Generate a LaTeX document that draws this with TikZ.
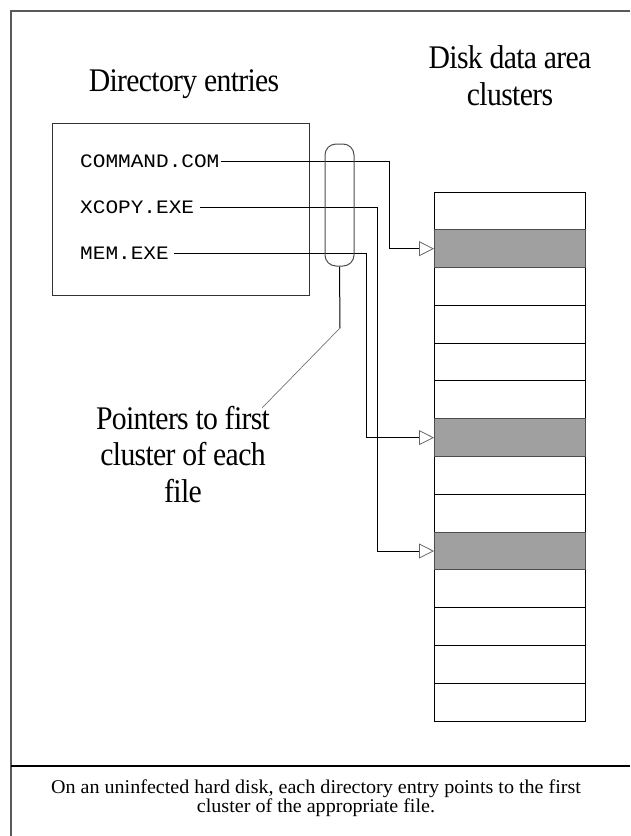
\documentclass[tikz,border=0pt]{standalone}
\usepackage{fontspec}
\setmainfont{Liberation Serif}
\newfontfamily\headfont[FakeStretch=0.9,LetterSpace=-2]{Liberation Serif}
\newfontfamily\capfont[FakeStretch=1.03]{Liberation Serif}
\newfontfamily\entryfont[FakeStretch=1.11]{Liberation Mono}
\usetikzlibrary{arrows.meta}
\definecolor{usedgray}{HTML}{A0A0A0}

\begin{document}
\begin{tikzpicture}[x=1pt,y=-1pt,
  heading/.style={font=\headfont\fontsize{33}{36.5}\selectfont, align=center, inner sep=0pt},
  caption/.style={font=\capfont\fontsize{19.5}{17.5}\selectfont, align=center, inner sep=0pt},
  entry/.style={font=\entryfont\fontsize{19}{19}\selectfont, anchor=west, inner sep=0pt},
  frameline/.style={line width=1.5pt, black!65},
  cell/.style={draw=black, line width=1pt, minimum width=151pt, minimum height=37.79pt, inner sep=0pt, outer sep=0pt},
  usedcell/.style={cell, fill=usedgray, draw=black!70},
  link/.style={line width=1pt, -{Triangle[open,length=15pt,width=15pt,line width=0.8pt,color=black!60]}},
  wire/.style={line width=1pt},
  leader/.style={line width=0.7pt, black!55}]

\useasboundingbox (0,0) rectangle (630,836);

% page frame and caption rule
\draw[frameline] (630,11) -- (11,11) -- (11,836);
\draw[line width=1.2pt] (11,766) -- (630,766);

% headings (a multi-line node's base is its last line)
\node[heading, anchor=base] (dirhead) at (184,91) {Directory entries};
\node[heading, anchor=base] (diskhead) at (510,105) {Disk data area\\clusters};

% directory box with its entries
\node[draw=black!80, line width=1pt, minimum width=257pt, minimum height=172pt, inner sep=0pt] (dirbox) at (180.5,209) {};
\node[entry] (cmd) at (80,161) {COMMAND.COM};
\node[entry] (xcopy) at (80,207) {XCOPY.EXE};
\node[entry] (mem) at (80,253) {MEM.EXE};

% cluster column
\foreach \i in {0,2,3,4,5,7,8,10,11,12,13}
  \node[cell] (row\i) at (509.5,{192+18.895+37.79*\i}) {};
\foreach \i in {1,6,9}
  \node[usedcell] (row\i) at (509.5,{192+18.895+37.79*\i}) {};

% pointers from entries to first clusters
\draw[link] ([xshift=1pt]cmd.east) -| ([xshift=-45pt]row1.west) -- (row1.west);
\draw[link] ([xshift=5pt]mem.east) -| ([xshift=-68pt]row6.west) -- (row6.west);
\draw[link] ([xshift=6pt]xcopy.east) -| ([xshift=-57pt]row9.west) -- (row9.west);

% bracket around the pointers and its label
\node[draw=black!70, line width=1pt, rounded corners=11pt, minimum width=29pt, minimum height=122pt, inner sep=0pt] (pill) at (339.5,205) {};
\coordinate (knee) at (340,328);
\node[heading, anchor=base] (ptrlabel) at (183,502) {Pointers to first\\cluster of each\\file};
\coordinate (leadend) at (262,408);
\draw[wire] (pill.south) -- (knee);
\draw[leader] (knee) -- (leadend);

% caption
\node[caption, anchor=base] (capt) at (316,812) {On an uninfected hard disk, each directory entry points to the first\\cluster of the appropriate file.};
\end{tikzpicture}
\end{document}
